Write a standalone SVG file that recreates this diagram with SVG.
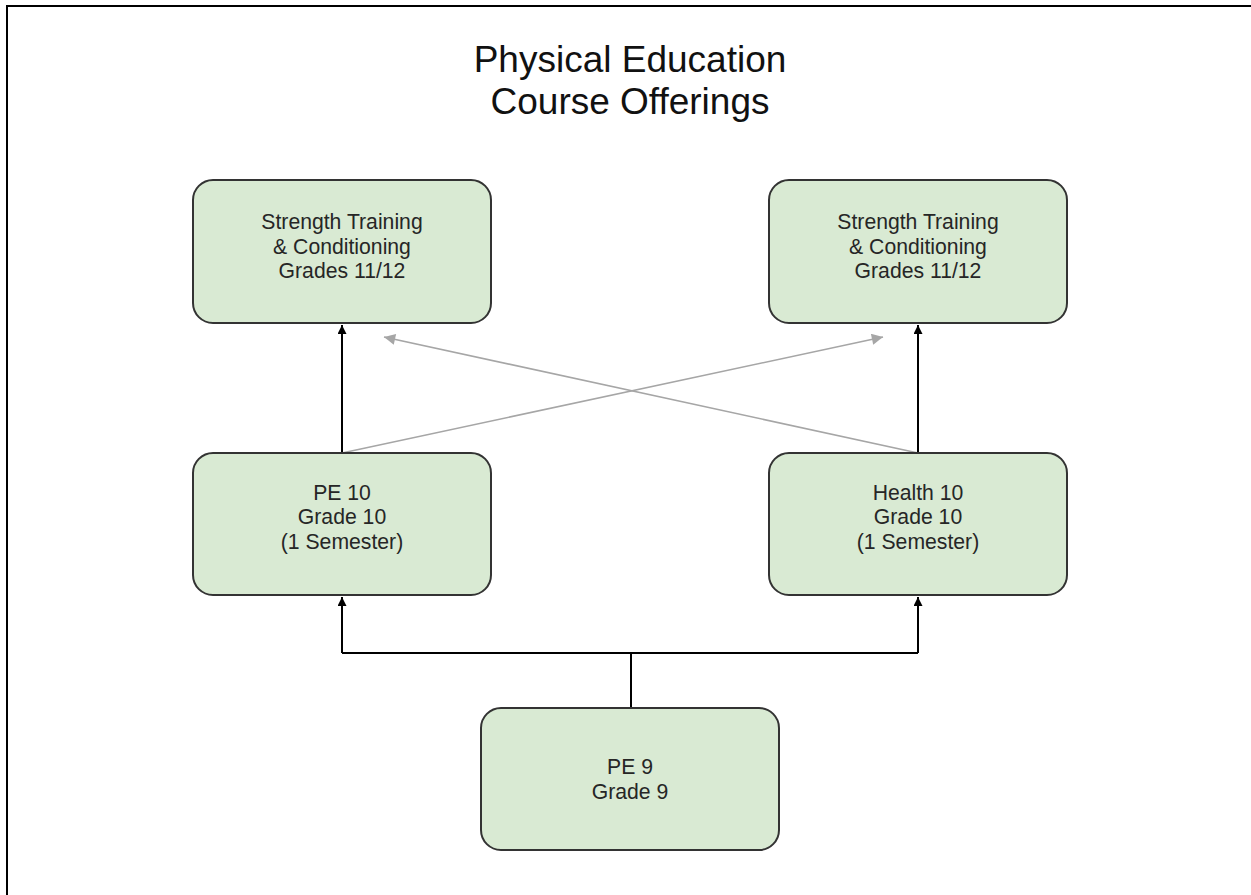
<svg xmlns="http://www.w3.org/2000/svg" width="1251" height="895" viewBox="0 0 1251 895">
  <style>
    .node rect { fill: #d9ead3; stroke: #333333; stroke-width: 2; }
    .node text { font-family: "Liberation Sans", Arial, sans-serif; font-size: 21.2px; fill: #262626; text-anchor: middle; }
    .title { font-family: "Liberation Sans", Arial, sans-serif; font-size: 37px; fill: #111111; text-anchor: middle; }
    .edge { fill: none; stroke: #000000; stroke-width: 2; }
    .cross { fill: none; stroke: #a6a6a6; stroke-width: 1.6; }
  </style>
  <defs>
    <marker id="arrow-dark" viewBox="0 0 10 10" refX="10" refY="5" markerWidth="4.5" markerHeight="4.5" orient="auto" markerUnits="strokeWidth">
      <path d="M0,0 L10,5 L0,10 Z" fill="#000000"/>
    </marker>
    <marker id="arrow-gray" viewBox="0 0 10 10" refX="10" refY="5" markerWidth="9" markerHeight="7" orient="auto" markerUnits="strokeWidth">
      <path d="M0,0 L10,5 L0,10 Z" fill="#a6a6a6"/>
    </marker>
  </defs>

  <rect x="0" y="0" width="1251" height="895" fill="#ffffff"/>
  <!-- page frame: top and left edges -->
  <path d="M7,895 V6 H1251" fill="none" stroke="#000000" stroke-width="2"/>

  <text class="title" x="630" y="72">Physical Education</text>
  <text class="title" x="630" y="114">Course Offerings</text>

  <g id="connectors">
    <path class="edge" d="M342,453 V325" marker-end="url(#arrow-dark)"/>
    <path class="edge" d="M918,453 V325" marker-end="url(#arrow-dark)"/>
    <path class="cross" d="M342,453 L883,337" marker-end="url(#arrow-gray)"/>
    <path class="cross" d="M918,453 L384,337" marker-end="url(#arrow-gray)"/>
    <path class="edge" d="M631,708 V653"/>
    <path class="edge" d="M342,653 H918"/>
    <path class="edge" d="M342,653 V597" marker-end="url(#arrow-dark)"/>
    <path class="edge" d="M918,653 V597" marker-end="url(#arrow-dark)"/>
  </g>

  <g id="strength-left" class="node">
    <rect x="193" y="180" width="298" height="143" rx="20" ry="20"/>
    <text x="342" y="229">Strength Training</text>
    <text x="342" y="254">&amp; Conditioning</text>
    <text x="342" y="278">Grades 11/12</text>
  </g>

  <g id="strength-right" class="node">
    <rect x="769" y="180" width="298" height="143" rx="20" ry="20"/>
    <text x="918" y="229">Strength Training</text>
    <text x="918" y="254">&amp; Conditioning</text>
    <text x="918" y="278">Grades 11/12</text>
  </g>

  <g id="pe10" class="node">
    <rect x="193" y="453" width="298" height="142" rx="20" ry="20"/>
    <text x="342" y="500">PE 10</text>
    <text x="342" y="524">Grade 10</text>
    <text x="342" y="549">(1 Semester)</text>
  </g>

  <g id="health10" class="node">
    <rect x="769" y="453" width="298" height="142" rx="20" ry="20"/>
    <text x="918" y="500">Health 10</text>
    <text x="918" y="524">Grade 10</text>
    <text x="918" y="549">(1 Semester)</text>
  </g>

  <g id="pe9" class="node">
    <rect x="481" y="708" width="298" height="142" rx="20" ry="20"/>
    <text x="630" y="774">PE 9</text>
    <text x="630" y="799">Grade 9</text>
  </g>
</svg>
